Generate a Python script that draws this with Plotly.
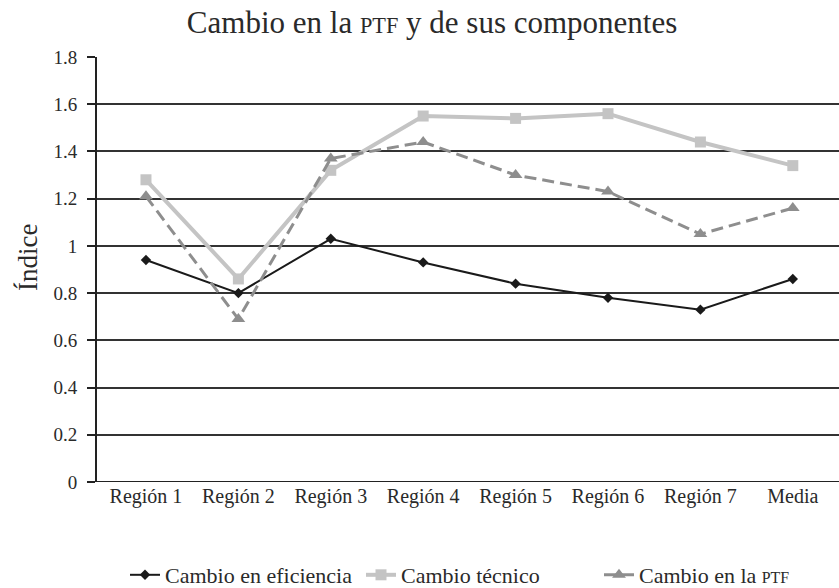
import plotly.graph_objects as go

categorias = ["Región 1", "Región 2", "Región 3", "Región 4", "Región 5", "Región 6", "Región 7", "Media"]
eficiencia = [0.94, 0.80, 1.03, 0.93, 0.84, 0.78, 0.73, 0.86]
tecnico = [1.28, 0.86, 1.32, 1.55, 1.54, 1.56, 1.44, 1.34]
ptf = [1.21, 0.69, 1.37, 1.44, 1.30, 1.23, 1.05, 1.16]
y_ticks = [0, 0.2, 0.4, 0.6, 0.8, 1, 1.2, 1.4, 1.6, 1.8]
y_labels = ["0", "0.2", "0.4", "0.6", "0.8", "1", "1.2", "1.4", "1.6", "1.8"]

SERIF = "Liberation Serif, DejaVu Serif, serif"
SC = "<span style='font-size:0.72em'>PTF</span>"
TXT = "#2a2a2a"
W, H = 839, 588

fig = go.Figure()
fig.add_trace(go.Scatter(
    x=categorias, y=eficiencia, name="Cambio en eficiencia", mode="lines+markers",
    line=dict(color="#1a1a1a", width=2), marker=dict(symbol="diamond", size=8, color="#1a1a1a"),
    legend="legend"))
fig.add_trace(go.Scatter(
    x=categorias, y=tecnico, name="Cambio técnico", mode="lines+markers",
    line=dict(color="#c4c4c4", width=4), marker=dict(symbol="square", size=11, color="#c4c4c4"),
    legend="legend2"))
fig.add_trace(go.Scatter(
    x=categorias, y=ptf, name="Cambio en la " + SC, mode="lines+markers",
    line=dict(color="#8e8e8e", width=3, dash="12px,6px"),
    marker=dict(symbol="triangle-up", size=12, color="#8e8e8e"),
    legend="legend3"))

def leg(px):
    return dict(orientation="h", xref="container", x=px / W, xanchor="left",
                yref="container", y=1 - 575 / H, yanchor="middle",
                font=dict(size=22, family=SERIF, color=TXT), itemwidth=30,
                bgcolor="rgba(0,0,0,0)")

fig.update_layout(
    width=W, height=H,
    paper_bgcolor="white", plot_bgcolor="white",
    margin=dict(l=97, r=0, t=57, b=106),
    font=dict(family=SERIF, color=TXT),
    title=dict(text="Cambio en la " + SC + " y de sus componentes", x=0.515, xanchor="center",
               yref="container", y=1 - 22 / H, yanchor="middle",
               font=dict(size=31, family=SERIF, color=TXT)),
    xaxis=dict(type="category", range=[-0.53, 7.5], showgrid=False, showline=False,
               ticks="", tickfont=dict(size=20, family=SERIF, color=TXT), zeroline=False,
               automargin=False),
    yaxis=dict(range=[0, 1.8], tickvals=y_ticks, ticktext=y_labels, showgrid=True,
               gridcolor="#333333", gridwidth=1.5, showline=True, linecolor="#222222", linewidth=2,
               ticks="outside", ticklen=8, tickcolor="#222222", tickwidth=1.5,
               ticklabelstandoff=6,
               tickfont=dict(size=19, family=SERIF, color=TXT), zeroline=False, automargin=False),
    legend=leg(125), legend2=leg(361), legend3=leg(599),
    showlegend=True,
)
fig.add_annotation(text="Índice", xref="paper", yref="paper",
                   x=(28 - 97) / (W - 97), y=(482 - 258) / 425, xanchor="center", yanchor="middle",
                   textangle=-90, showarrow=False, font=dict(size=27, family=SERIF, color=TXT))
fig.add_shape(type="line", xref="paper", yref="y", x0=0, x1=1, y0=0, y1=0,
              line=dict(color="#222222", width=2))

fig.write_html("out.html", post_script="document.body.style.margin='0';",
               config={"displayModeBar": False})
